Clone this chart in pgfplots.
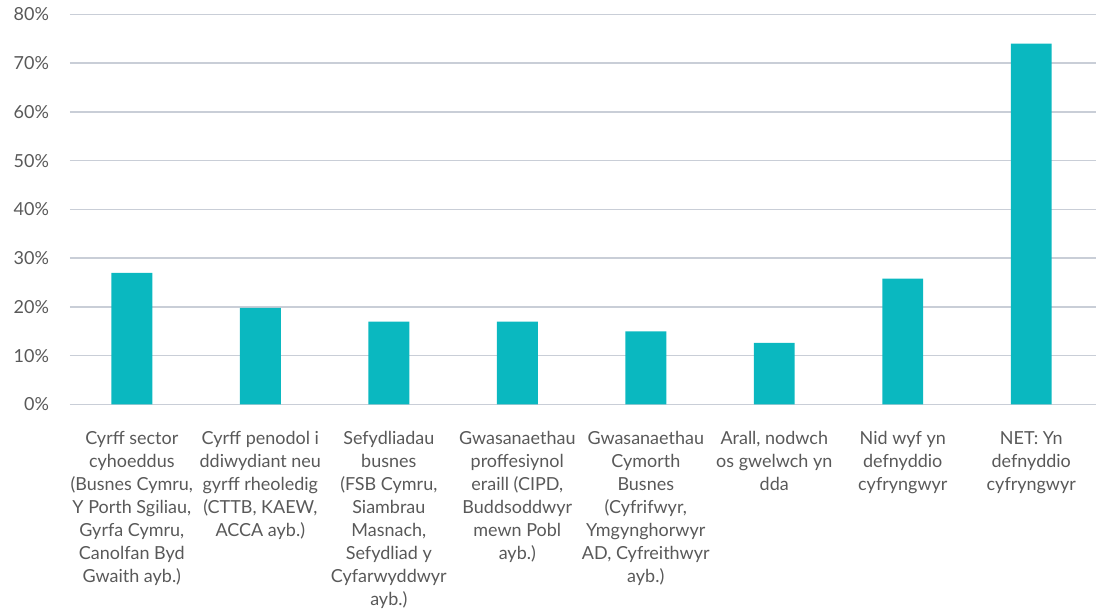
\documentclass[border=0pt]{standalone}
\usepackage{fontspec}
\setmainfont{Lato}
\usepackage{pgfplots}
\pgfplotsset{compat=1.18}
\definecolor{barc}{HTML}{0AB8C0}
\definecolor{gridc}{HTML}{C9CED7}
\definecolor{txt}{HTML}{595959}
\begin{document}
\begin{tikzpicture}
\begin{axis}[
  scale only axis,
  width=771pt, height=292.9pt,
  xmin=-0.482, xmax=7.506,
  ymin=0, ymax=80,
  ytick={0,10,...,80},
  xtick=data,
  xticklabels={
    {Cyrff sector\\cyhoeddus\\(Busnes Cymru,\\Y Porth Sgiliau,\\Gyrfa Cymru,\\Canolfan Byd\\Gwaith ayb.)},
    {Cyrff penodol i\\ddiwydiant neu\\gyrff rheoledig\\(CTTB, KAEW,\\ACCA ayb.)},
    {Sefydliadau\\busnes\\(FSB Cymru,\\Siambrau\\Masnach,\\Sefydliad y\\Cyfarwyddwyr\\ayb.)},
    {Gwasanaethau\\proffesiynol\\eraill (CIPD,\\Buddsoddwyr\\mewn Pobl\\ayb.)},
    {Gwasanaethau\\Cymorth\\Busnes\\(Cyfrifwyr,\\Ymgynghorwyr\\AD, Cyfreithwyr\\ayb.)},
    {Arall, nodwch\\os gwelwch yn\\dda},
    {Nid wyf yn\\defnyddio\\cyfryngwyr},
    {NET: Yn\\defnyddio\\cyfryngwyr}
  },
  /pgf/number format/assume math mode=true,
  yticklabel={\pgfmathprintnumber{\tick}\%},
  axis line style={draw=none},
  major tick length=0pt,
  ymajorgrids,
  grid style={gridc, line width=1.1pt},
  tick label style={font=\fontsize{13.5}{17.25}\selectfont, text=txt},
  yticklabel style={inner sep=0pt, xshift=-15.5pt},
  xticklabel style={align=center, inner sep=0pt, yshift=-20pt},
  ybar, bar width=30.75pt,
  clip=false,
]
\addplot[fill=barc, draw=none] coordinates {
  (0,27) (1,19.8) (2,17) (3,17) (4,15) (5,12.6) (6,25.8) (7,74)
};
\end{axis}
\path[use as bounding box] (-52.5pt,-150.75pt) rectangle (771pt,303.75pt);
\end{tikzpicture}
\end{document}
